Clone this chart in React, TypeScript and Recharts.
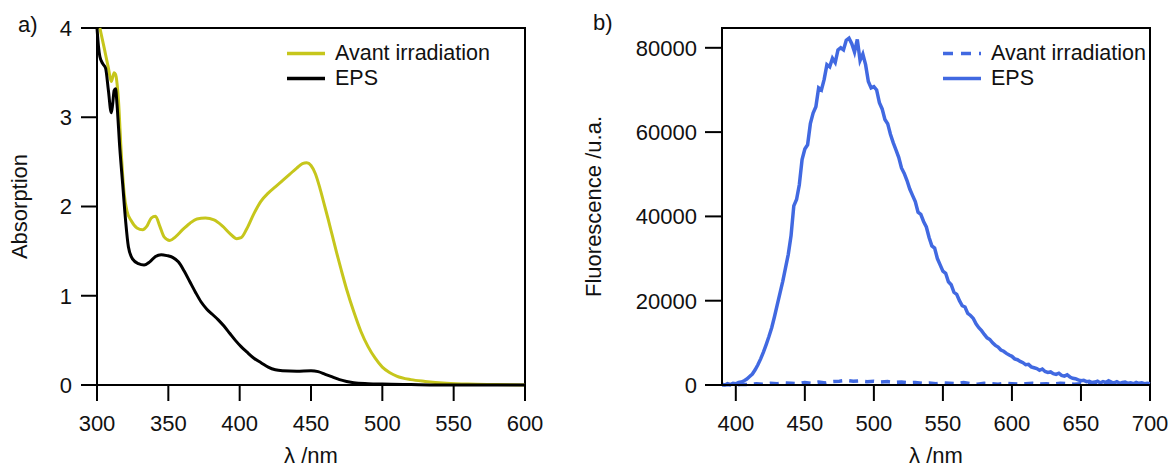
import { Label, Legend, Line, LineChart, ReferenceArea, XAxis, YAxis } from 'recharts';

const FONT = '"Liberation Sans", Arial, Helvetica, sans-serif';
const YELLOW = '#c6c61c';
const BLUE = '#4169e1';

// a) absorption spectra
const absTicksX = [300, 350, 400, 450, 500, 550, 600];
const absTicksY = [0, 1, 2, 3, 4];

const avantNm = [
  302, 305, 308, 310, 312, 313, 315, 317, 319, 321, 324, 328, 332, 335, 338, 341, 344, 347, 351,
  355, 360, 365, 370, 376, 382, 388, 393, 398, 401, 405, 410, 415, 420, 425, 430, 435, 440, 444,
  447, 450, 453, 456, 459, 462, 465, 468, 471, 475, 480, 485, 490, 495, 500, 505, 510, 520, 530,
  545, 560, 580, 600,
];
const avantAbs = [
  4.0, 3.78, 3.55, 3.4, 3.5, 3.48, 3.2, 2.6, 2.15, 1.95, 1.84, 1.76, 1.74, 1.78, 1.87, 1.89, 1.78,
  1.66, 1.62, 1.66, 1.74, 1.81, 1.86, 1.87, 1.85, 1.78, 1.7, 1.64, 1.65, 1.75, 1.92, 2.06, 2.15,
  2.22, 2.29, 2.36, 2.43, 2.48, 2.49, 2.46, 2.37, 2.22, 2.04, 1.86, 1.67, 1.48, 1.3, 1.07, 0.82,
  0.6, 0.43, 0.3, 0.2, 0.14, 0.1, 0.06, 0.04, 0.02, 0.01, 0.005, 0.0,
];

const epsNm = [
  300, 301, 302, 304, 306, 308, 310, 311, 312, 313, 314, 316, 318, 320, 322, 325, 329, 333, 337,
  341, 345, 349, 353, 357, 361, 365, 369, 373, 377, 381, 385, 389, 393, 397, 401, 405, 410, 415,
  420, 425, 430, 440, 450, 455, 460, 465, 470, 475, 480, 490, 500, 520, 550, 600,
];
const epsAbs = [
  4.0, 3.8, 3.68, 3.6, 3.55, 3.3, 3.05, 3.15, 3.3, 3.32, 3.15, 2.65, 2.25, 1.85, 1.55, 1.41, 1.36,
  1.345, 1.38, 1.44, 1.46, 1.45, 1.43, 1.38, 1.28, 1.16, 1.04, 0.93, 0.85, 0.79, 0.73, 0.66, 0.58,
  0.5, 0.43, 0.37, 0.3, 0.25, 0.2, 0.17, 0.16, 0.155, 0.16, 0.15, 0.12, 0.09, 0.06, 0.04, 0.025,
  0.015, 0.01, 0.005, 0.0, 0.0,
];

// b) fluorescence spectra
const fluoTicksX = [400, 450, 500, 550, 600, 650, 700];
const fluoTicksY = [0, 20000, 40000, 60000, 80000];

const fluoEpsNm = [
  390, 392, 394, 396, 398, 400, 402, 404, 406, 408,
  410, 412, 414, 416, 418, 420, 422, 424, 426, 428,
  430, 432, 434, 436, 438, 440, 442, 444, 446, 448,
  450, 452, 454, 456, 458, 460, 462, 464, 466, 468,
  470, 472, 474, 476, 478, 480, 482, 484, 486, 488,
  490, 492, 494, 496, 498, 500, 502, 504, 506, 508,
  510, 512, 514, 516, 518, 520, 522, 524, 526, 528,
  530, 532, 534, 536, 538, 540, 542, 544, 546, 548,
  550, 552, 554, 556, 558, 560, 562, 564, 566, 568,
  570, 572, 574, 576, 578, 580, 582, 584, 586, 588,
  590, 592, 594, 596, 598, 600, 602, 604, 606, 608,
  610, 612, 614, 616, 618, 620, 622, 624, 626, 628,
  630, 632, 634, 636, 638, 640, 642, 644, 646, 648,
  650, 652, 654, 656, 658, 660, 662, 664, 666, 668,
  670, 672, 674, 676, 678, 680, 682, 684, 686, 688,
  690, 692, 694, 696, 698, 700,
];
const fluoEps = [
  200, 0, 300, 100, 400, 300, 600, 700, 1000, 1400,
  2000, 2600, 3600, 4800, 6200, 7800, 9600, 11500, 13600, 16200,
  19000, 21800, 24600, 27800, 31000, 35400, 42500, 44000, 47500, 53500,
  56000, 57000, 62000, 64500, 66000, 70500, 70000, 72500, 76000, 75500,
  77500, 76500, 79500, 80000, 79500, 81800, 82300, 81000, 79000, 82000,
  77000, 78500, 76000, 72000, 70500, 70800, 70000, 67000, 65500, 63000,
  62000, 59500, 57500, 55800, 54000, 51500, 50200, 48500, 46500, 45000,
  43500, 41000, 40500, 38800, 37500, 35000, 33000, 32500, 30000, 28500,
  27000, 26500, 24500, 23800, 22000, 21500, 20000, 18800, 18500, 17000,
  16500, 15800, 14500, 13600, 12900, 12000, 11200, 10800, 10000, 9400,
  9000, 8300, 8000, 7500, 7100, 6800, 6200, 6000, 5600, 5300,
  4800, 4900, 4300, 4100, 3900, 3500, 3800, 3200, 3000, 3100,
  2700, 2500, 2800, 2300, 2100, 2400, 1900, 1600, 1500, 1200,
  1000, 1100, 800, 900, 600, 700, 900, 500, 800, 600,
  1000, 700, 500, 800, 400, 600, 700, 400, 500, 300,
  600, 400, 500, 300, 400, 300,
];

const fluoAvantNm = [
  390, 395, 400, 405, 410, 415, 420, 425, 430, 435, 440, 445, 450, 455, 460, 465, 470, 475, 480,
  485, 490, 495, 500, 505, 510, 515, 520, 525, 530, 535, 540, 545, 550, 555, 560, 565, 570, 575,
  580, 585, 590, 595, 600, 605, 610, 615, 620, 625, 630, 635, 640, 645, 650, 655, 660, 665, 670,
  675, 680, 685, 690, 695, 700,
];
const fluoAvant = [
  0, 100, 0, 200, 100, 300, 200, 400, 300, 500, 400, 300, 600, 400, 700, 500, 800, 900, 1100,
  900, 1000, 800, 900, 700, 800, 600, 700, 500, 600, 400, 500, 300, 500, 400, 300, 600, 300, 200,
  400, 300, 200, 400, 300, 200, 300, 400, 200, 300, 200, 400, 300, 200, 300, 200, 300, 200, 400,
  200, 300, 200, 300, 200, 300,
];

const zip = (xs: number[], ys: number[]) => xs.map((x, i) => ({ x, y: ys[i] }));

const axisLine = { stroke: '#000', strokeWidth: 2 };
const tickStyle = { fill: '#111', fontSize: 22, fontFamily: FONT };

interface LegendItem {
  label: string;
  color: string;
  dash?: string;
}

const LegendBox = ({ items }: { items: LegendItem[] }) => (
  <div style={{ fontFamily: FONT, fontSize: 21.5, color: '#111' }}>
    {items.map((it) => (
      <div key={it.label} style={{ display: 'flex', alignItems: 'center', height: 25 }}>
        <svg width={48} height={25} style={{ flex: 'none' }}>
          <line x1={0} x2={38} y1={12.5} y2={12.5} stroke={it.color} strokeWidth={3.5} strokeDasharray={it.dash} />
        </svg>
        <span style={{ lineHeight: '25px', whiteSpace: 'nowrap' }}>{it.label}</span>
      </div>
    ))}
  </div>
);

const yTitle = (text: string, dx: number) => (props: any) => {
  const vb = props.viewBox || {};
  const x = (vb.x ?? 0) + dx;
  const y = (vb.y ?? 0) + (vb.height ?? 0) / 2;
  return (
    <text x={x} y={y} transform={`rotate(-90 ${x} ${y})`} textAnchor='middle' fill='#111' fontSize={22} fontFamily={FONT}>
      {text}
    </text>
  );
};

const xTitle = (text: string) => (props: any) => {
  const vb = props.viewBox || {};
  return (
    <text x={vb.x + vb.width / 2} y={vb.y + vb.height - 5} textAnchor='middle' fill='#111' fontSize={22} fontFamily={FONT}>
      {text}
    </text>
  );
};

const panelTag = (text: string, left: number, top: number) => (
  <span style={{ position: 'absolute', left, top, fontFamily: FONT, fontSize: 22, color: '#111', lineHeight: '25px' }}>
    {text}
  </span>
);

export default function App() {
  return (
    <div style={{ position: 'absolute', left: 0, top: 0, width: 1172, height: 468, background: '#fff' }}>
      {panelTag('a)', 18, 12)}
      {panelTag('b)', 593, 10)}

      <div style={{ position: 'absolute', left: 0, top: 0 }}>
        <LineChart width={580} height={468} margin={{ top: 28, right: 55, bottom: 0, left: 0 }}>
          <XAxis
            dataKey='x'
            type='number'
            domain={[300, 600]}
            ticks={absTicksX}
            height={83}
            axisLine={axisLine}
            tickLine={axisLine}
            tickSize={16}
            tickMargin={14}
            tick={tickStyle}
          >
            <Label content={xTitle('λ /nm')} />
          </XAxis>
          <YAxis
            type='number'
            domain={[0, 4]}
            ticks={absTicksY}
            width={97}
            axisLine={axisLine}
            tickLine={axisLine}
            tickSize={16}
            tickMargin={9}
            tick={tickStyle}
          >
            <Label content={yTitle('Absorption', 27)} />
          </YAxis>
          <ReferenceArea x1={300} x2={600} y1={0} y2={4} fill='none' stroke='#000' strokeWidth={2} />
          <Line data={zip(avantNm, avantAbs)} dataKey='y' type='monotone' stroke={YELLOW} strokeWidth={3} dot={false} isAnimationActive={false} name='Avant irradiation' />
          <Line data={zip(epsNm, epsAbs)} dataKey='y' type='monotone' stroke='#000' strokeWidth={3} dot={false} isAnimationActive={false} name='EPS' />
          <Legend
            layout='vertical'
            align='center'
            verticalAlign='middle'
            wrapperStyle={{ top: 41, left: 287, width: 'auto' }}
            content={() => (
              <LegendBox
                items={[
                  { label: 'Avant irradiation', color: YELLOW },
                  { label: 'EPS', color: '#000' },
                ]}
              />
            )}
          />
        </LineChart>
      </div>

      <div style={{ position: 'absolute', left: 580, top: 0 }}>
        <LineChart width={592} height={468} margin={{ top: 28, right: 22, bottom: 0, left: 0 }}>
          <XAxis
            dataKey='x'
            type='number'
            domain={[390, 700]}
            ticks={fluoTicksX}
            height={83}
            axisLine={axisLine}
            tickLine={axisLine}
            tickSize={16}
            tickMargin={14}
            tick={tickStyle}
          >
            <Label content={xTitle('λ /nm')} />
          </XAxis>
          <YAxis
            type='number'
            domain={[0, 84700]}
            ticks={fluoTicksY}
            width={142}
            axisLine={axisLine}
            tickLine={axisLine}
            tickSize={17}
            tickMargin={8}
            tick={tickStyle}
          >
            <Label content={yTitle('Fluorescence /u.a.', 21)} />
          </YAxis>
          <ReferenceArea x1={390} x2={700} y1={0} y2={84700} fill='none' stroke='#000' strokeWidth={2} />
          <Line data={zip(fluoAvantNm, fluoAvant)} dataKey='y' type='linear' stroke={BLUE} strokeWidth={3.5} strokeDasharray='9 7' dot={false} isAnimationActive={false} name='Avant irradiation' />
          <Line data={zip(fluoEpsNm, fluoEps)} dataKey='y' type='linear' stroke={BLUE} strokeWidth={3.5} dot={false} isAnimationActive={false} name='EPS' />
          <Legend
            layout='vertical'
            align='center'
            verticalAlign='middle'
            wrapperStyle={{ top: 41, left: 943 - 580, width: 'auto' }}
            content={() => (
              <LegendBox
                items={[
                  { label: 'Avant irradiation', color: BLUE, dash: '10 8' },
                  { label: 'EPS', color: BLUE },
                ]}
              />
            )}
          />
        </LineChart>
      </div>
    </div>
  );
}
